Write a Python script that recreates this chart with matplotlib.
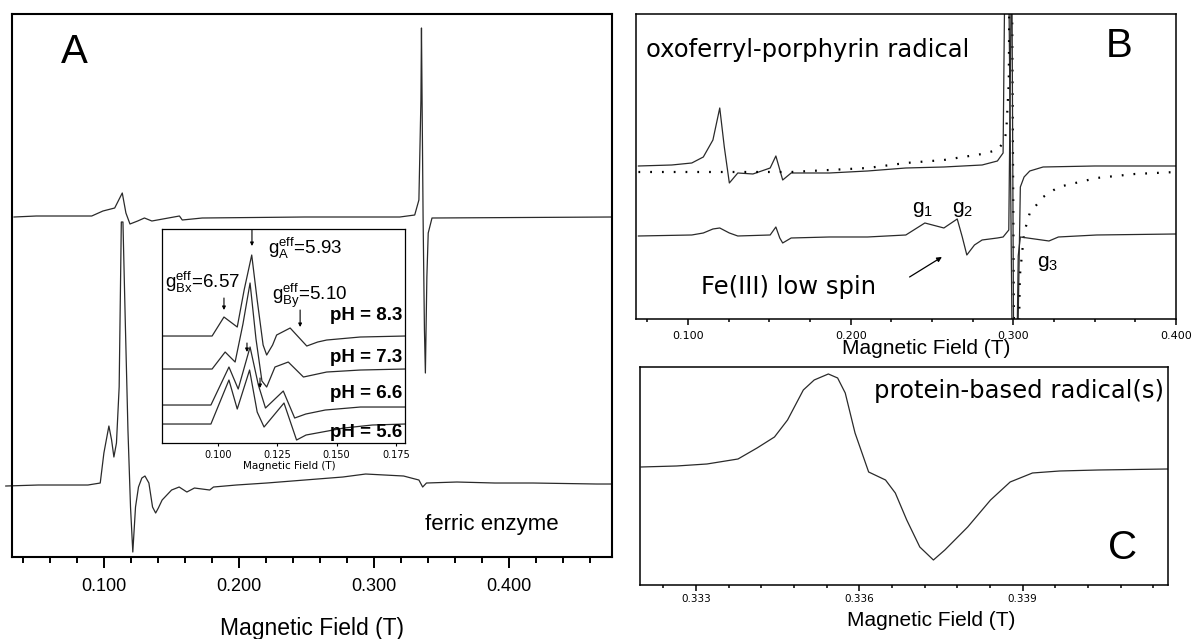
import matplotlib
matplotlib.use('Agg')
import matplotlib.pyplot as plt
from matplotlib.ticker import MultipleLocator, FixedLocator, FormatStrFormatter
from matplotlib import font_manager

# --- data (field in T, intensity in arbitrary units) ---

# panel A, main spectrum: top trace
a_top_field = [0.0335, 0.050, 0.091, 0.0993, 0.108, 0.1136, 0.1163, 0.1193, 0.125, 0.130,
               0.1355, 0.1559, 0.158, 0.1728, 0.2486, 0.319, 0.330, 0.3331, 0.3346, 0.3350,
               0.3362, 0.3372, 0.3379, 0.3390, 0.3400, 0.3428, 0.476]
a_top_int = [0, 1, 1, 6, 9, 24, 4, -7, -4, -1,
             -4, 1, -3, -1, 0, 0, 2, 17, 117, 189,
             0, -113, -156, -60, -16, -1, 0]

# panel A, ferric enzyme trace
a_fe_field = [0.0274, 0.0515, 0.0882, 0.0973, 0.1000, 0.1037, 0.1057, 0.1074, 0.1093, 0.1113,
              0.1129, 0.1141, 0.1158, 0.1178, 0.1197, 0.1214, 0.1234, 0.1256, 0.1281, 0.1304,
              0.1333, 0.1360, 0.1383, 0.1403, 0.1431, 0.1501, 0.1557, 0.1614, 0.1670, 0.1783,
              0.1811, 0.1980, 0.2205, 0.2486, 0.2768, 0.2937, 0.3218, 0.3274, 0.3331, 0.3359,
              0.3387, 0.3612, 0.3893, 0.4175, 0.4647, 0.476]
a_fe_int = [0, 1, 1, 3, 33, 60, 46, 29, 43, 99,
            264, 264, 166, 56, -21, -66, -21, -1, 8, 10,
            3, -21, -27, -22, -14, -4, -1, -6, -2, -4,
            -1, 1, 3, 6, 9, 12, 10, 8, 6, -1,
            3, 4, 3, 3, 2, 2]

# inset: low-field region at four pH values
ph_labels = ['pH = 8.3', 'pH = 7.3', 'pH = 6.6', 'pH = 5.6']
inset_field = {
    'pH = 8.3': [0.0768, 0.0975, 0.1025, 0.1081, 0.1110, 0.1142, 0.1165, 0.1190, 0.1205, 0.1230,
                 0.1247, 0.1304, 0.1374, 0.1420, 0.1458, 0.1599, 0.1788],
    'pH = 7.3': [0.0768, 0.0975, 0.1030, 0.1072, 0.1105, 0.1135, 0.1160, 0.1185, 0.1205, 0.1240,
                 0.1296, 0.1360, 0.1458, 0.1600, 0.1788],
    'pH = 6.6': [0.0768, 0.0970, 0.1046, 0.1085, 0.1135, 0.1170, 0.1200, 0.1275, 0.1323, 0.1370,
                 0.1452, 0.1600, 0.1788],
    'pH = 5.6': [0.0768, 0.0970, 0.1046, 0.1081, 0.1133, 0.1165, 0.1194, 0.1278, 0.1331, 0.1371,
                 0.1531, 0.1650, 0.1788],
}
inset_int = {
    'pH = 8.3': [0, 0, 19, 9, 46, 81, 36, -9, -19, -9,
                 1, 8, -10, -6, -4, -1, 0],
    'pH = 7.3': [0, 0, 17, 7, 45, 86, 30, -12, -18, 2,
                 7, -8, -3, -1, 0],
    'pH = 6.6': [0, 0, 38, 16, 58, 20, -3, 14, -13, -9,
                 -5, -2, -2],
    'pH = 5.6': [0, 0, 44, 15, 54, 12, -3, 21, -16, -11,
                 -4, -1, 0],
}

# panel B: oxoferryl-porphyrin radical (solid), simulation (dotted), low spin trace
b_top_field = [0.0695, 0.0900, 0.1023, 0.1094, 0.1153, 0.1195, 0.1223, 0.1254, 0.1306, 0.1399,
               0.1505, 0.1540, 0.1582, 0.1634, 0.1869, 0.2104, 0.2339, 0.2573, 0.2808, 0.2902,
               0.2937, 0.2960, 0.3005, 0.3030, 0.3043, 0.3066, 0.3101, 0.3183, 0.3500, 0.4000]
b_top_int = [0, 1, 3, 9, 26, 58, 19, -17, -7, -8,
             -2, 10, -14, -7, -7, -5, -2, -1, 1, 5,
             13, 400, -400, -150, -21, -11, -5, -1, 0, 0]

b_sim_field = [0.0695, 0.1634, 0.2104, 0.2339, 0.2573, 0.2808, 0.2902, 0.2937, 0.2956, 0.2972,
               0.2984, 0.3012, 0.3040, 0.3066, 0.3101, 0.3183, 0.3277, 0.3512, 0.3747, 0.4000]
b_sim_int = [-6, -6, -2, 3, 6, 12, 16, 23, 33, 83,
             400, -400, -110, -67, -47, -31, -21, -12, -8, -6]

b_low_field = [0.0695, 0.1023, 0.1094, 0.1153, 0.1195, 0.1254, 0.1306, 0.1505, 0.1540, 0.1564,
               0.1582, 0.1634, 0.1869, 0.2104, 0.2339, 0.2456, 0.2573, 0.2655, 0.2686, 0.2714,
               0.2761, 0.2808, 0.2902, 0.2937, 0.2972, 0.2990, 0.3007, 0.3030, 0.3043, 0.3219,
               0.3277, 0.3512, 0.4000]
b_low_int = [0, 1, 3, 7, 8, 3, 0, 1, 9, -2,
             -7, -2, -1, -1, 1, 13, 8, 17, -1, -19,
             -9, -4, -2, -1, 6, 300, -300, -20, -1, -5,
             -1, 1, 2]

# panel C: protein-based radical(s)
c_field = [0.33199, 0.33264, 0.33320, 0.33377, 0.33412, 0.33444, 0.33468, 0.33497, 0.33517, 0.33543,
           0.33560, 0.33574, 0.33592, 0.33617, 0.33648, 0.33666, 0.33687, 0.33711, 0.33736, 0.33757,
           0.33799, 0.33841, 0.33877, 0.33918, 0.33968, 0.34039, 0.34167]
c_int = [1, 2, 4, 9, 20, 31, 48, 78, 88, 94,
         90, 75, 35, -4, -12, -25, -52, -79, -92, -82,
         -59, -32, -14, -5, -3, -2, -1]

# --- fonts ---
names = {f.name for f in font_manager.fontManager.ttflist}
narrow = 'Liberation Sans Narrow' if 'Liberation Sans Narrow' in names else 'Liberation Sans'
big_lab = 19 if narrow == 'Liberation Sans Narrow' else 16.5
big_tick = 14.5 if narrow == 'Liberation Sans Narrow' else 13
plt.rcParams['font.family'] = ['Liberation Sans', 'DejaVu Sans']
plt.rcParams['mathtext.fontset'] = 'custom'
plt.rcParams['mathtext.rm'] = 'Liberation Sans'
plt.rcParams['mathtext.it'] = 'Liberation Sans'

LC = '#2a2a2a'
LW = 0.9

fig = plt.figure(figsize=(11.95, 6.39), dpi=100)

# ---------------- panel A ----------------
axA = fig.add_axes([0.01004, 0.1283, 0.5021, 0.8498])
axA.set_xlim(0.032, 0.476)
axA.set_ylim(-543, 0)
off_top, off_fe = -203, -472
axA.plot(a_top_field, [v + off_top for v in a_top_int], color=LC, lw=LW)
axA.plot(a_fe_field, [v + off_fe for v in a_fe_int], color=LC, lw=LW, clip_on=False)
axA.xaxis.set_major_locator(FixedLocator([0.1, 0.2, 0.3, 0.4]))
axA.xaxis.set_minor_locator(MultipleLocator(0.02))
axA.xaxis.set_major_formatter(FormatStrFormatter('%.3f'))
axA.set_yticks([])
axA.tick_params(axis='x', which='major', length=8, width=1.4, direction='out', pad=7)
axA.tick_params(axis='x', which='minor', length=4.5, width=1.4, direction='out')
for lab in axA.get_xticklabels():
    lab.set_fontfamily(narrow)
    lab.set_fontsize(big_tick)
for s in axA.spines.values():
    s.set_linewidth(1.5)
axA.set_xlabel('Magnetic Field (T)', fontsize=big_lab, family=narrow)
axA.xaxis.set_label_coords(0.5, -0.131)
axA.xaxis.label.set_va('center')
axA.text(0.0681, -38, 'A', fontsize=29, va='center', ha='left')
axA.text(0.3378, -510, 'ferric enzyme', fontsize=16, va='center', ha='left')

# inset
axI = fig.add_axes([0.1356, 0.3067, 0.2033, 0.3349])
axI.set_xlim(0.0764, 0.1788)
axI.set_ylim(-214, 0)
ph_off = {'pH = 8.3': -107, 'pH = 7.3': -140, 'pH = 6.6': -176, 'pH = 5.6': -195}
ph_lab_y = {'pH = 8.3': -86, 'pH = 7.3': -128, 'pH = 6.6': -164, 'pH = 5.6': -203}
for ph in ph_labels:
    axI.plot(inset_field[ph], [v + ph_off[ph] for v in inset_int[ph]], color=LC, lw=LW)
    axI.text(0.1776, ph_lab_y[ph], ph, fontsize=13.5, fontweight='bold', ha='right', va='center')
axI.set_xticks([0.100, 0.125, 0.150, 0.175])
axI.xaxis.set_major_formatter(FormatStrFormatter('%.3f'))
axI.set_yticks([])
axI.tick_params(axis='x', length=2, width=0.8, pad=3, labelsize=7)
for lab in axI.get_xticklabels():
    lab.set_fontfamily('DejaVu Sans')
for s in axI.spines.values():
    s.set_linewidth(0.9)
axI.set_xlabel('Magnetic Field (T)', fontsize=7.5, family='DejaVu Sans')
axI.xaxis.set_label_coords(0.523, -0.107)
axI.xaxis.label.set_va('center')
axI.text(0.1211, -19, r'g$^{\mathregular{eff}}_{\mathregular{A}}$=5.93', fontsize=13.5, va='center', ha='left')
axI.text(0.0777, -53, r'g$^{\mathregular{eff}}_{\mathregular{Bx}}$=6.57', fontsize=13.5, va='center', ha='left')
axI.text(0.1228, -67, r'g$^{\mathregular{eff}}_{\mathregular{By}}$=5.10', fontsize=13.5, va='center', ha='left')
arrows_inset = [(0.1143, -1, -17), (0.1025, -69, -81), (0.1346, -81, -98),
                (0.1122, -114, -123), (0.1177, -149, -159)]
for ax_f, y0, y1 in arrows_inset:
    axI.annotate('', xy=(ax_f, y1), xytext=(ax_f, y0), annotation_clip=False,
                 arrowprops=dict(arrowstyle='-|>', color='black', lw=0.8,
                                 mutation_scale=5, shrinkA=0, shrinkB=0))

# ---------------- panel B ----------------
axB = fig.add_axes([0.5322, 0.5008, 0.4519, 0.4773])
axB.set_xlim(0.068, 0.400)
axB.set_ylim(-305, 0)
off_b_top, off_b_low = -152, -222
axB.plot(b_top_field, [v + off_b_top for v in b_top_int], color=LC, lw=LW)
axB.plot(b_sim_field, [v + off_b_top for v in b_sim_int], color='black', lw=1.6,
         linestyle=(0, (0.8, 4.5)))
axB.plot(b_low_field, [v + off_b_low for v in b_low_int], color=LC, lw=LW)
axB.xaxis.set_major_locator(FixedLocator([0.1, 0.2, 0.3, 0.4]))
axB.xaxis.set_minor_locator(MultipleLocator(0.025))
axB.xaxis.set_major_formatter(FormatStrFormatter('%.3f'))
axB.set_yticks([])
axB.tick_params(axis='x', which='major', length=4.5, width=1.1, direction='out', pad=4, labelsize=8)
axB.tick_params(axis='x', which='minor', length=2.5, width=1.1, direction='out')
for lab in axB.get_xticklabels():
    lab.set_fontfamily('DejaVu Sans')
for s in axB.spines.values():
    s.set_linewidth(1.1)
axB.set_xlabel('Magnetic Field (T)', fontsize=15)
axB.xaxis.set_label_coords(0.537, -0.098)
axB.xaxis.label.set_va('center')
axB.text(0.0742, -36, 'oxoferryl-porphyrin radical', fontsize=17.5, family='DejaVu Sans',
         va='center', ha='left')
axB.text(0.3571, -32, 'B', fontsize=29, va='center', ha='left')
axB.text(0.2374, -196, r'g$_{\mathregular{1}}$', fontsize=15, va='center', ha='left')
axB.text(0.2620, -196, r'g$_{\mathregular{2}}$', fontsize=15, va='center', ha='left')
axB.text(0.3147, -250, r'g$_{\mathregular{3}}$', fontsize=15, va='center', ha='left')
axB.text(0.108, -273, 'Fe(III) low spin', fontsize=17.5, family='DejaVu Sans', va='center', ha='left')
axB.annotate('', xy=(0.2561, -243), xytext=(0.2362, -263),
             arrowprops=dict(arrowstyle='-|>', color='black', lw=0.9,
                             mutation_scale=7, shrinkA=0, shrinkB=0))

# ---------------- panel C ----------------
axC = fig.add_axes([0.5356, 0.0845, 0.4418, 0.3412])
axC.set_xlim(0.33197, 0.34167)
axC.set_ylim(-218, 0)
off_c = -101
axC.plot(c_field, [v + off_c for v in c_int], color=LC, lw=LW)
axC.xaxis.set_major_locator(FixedLocator([0.333, 0.336, 0.339]))
axC.xaxis.set_minor_locator(MultipleLocator(0.0006))
axC.xaxis.set_major_formatter(FormatStrFormatter('%.3f'))
axC.set_yticks([])
axC.tick_params(axis='x', which='major', length=4.5, width=1.1, direction='out', pad=2, labelsize=7.5)
axC.tick_params(axis='x', which='minor', length=2.5, width=1.1, direction='out')
for lab in axC.get_xticklabels():
    lab.set_fontfamily('DejaVu Sans')
for s in axC.spines.values():
    s.set_linewidth(1.1)
axC.set_xlabel('Magnetic Field (T)', fontsize=15)
axC.xaxis.set_label_coords(0.551, -0.161)
axC.xaxis.label.set_va('center')
axC.text(0.34160, -24, 'protein-based radical(s)', fontsize=17.5, family='DejaVu Sans',
         va='center', ha='right')
axC.text(0.34056, -181, 'C', fontsize=29, va='center', ha='left')

fig.savefig('out.png', dpi=100)
